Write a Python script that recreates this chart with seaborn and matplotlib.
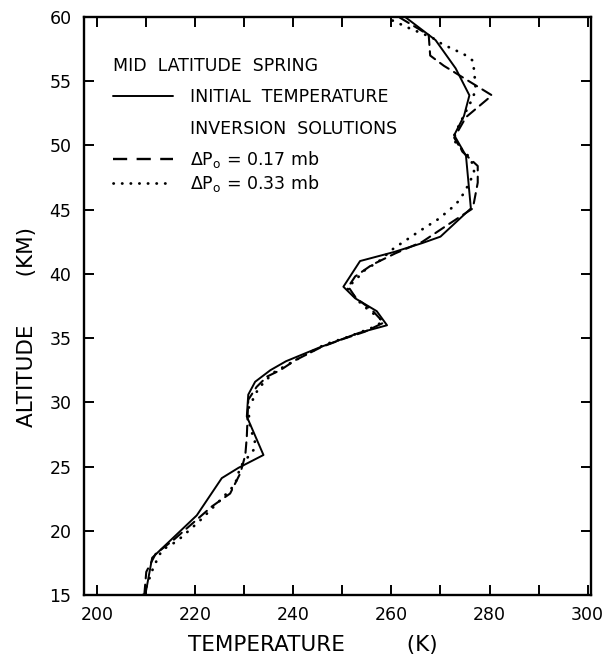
import numpy as np
import pandas as pd
import matplotlib
matplotlib.use("Agg")
import matplotlib.pyplot as plt
from matplotlib.lines import Line2D
import seaborn as sns

sns.set_theme(style="ticks")
plt.rcParams['font.family'] = ['DejaVu Sans']
plt.rcParams['text.color'] = 'black'

# ---- data ----
alt_init = [15.0, 17.9, 21.2, 24.1, 24.9, 25.9, 28.9, 30.6, 31.6, 32.5, 33.2, 34.3,
            35.0, 35.4, 36.0, 37.1, 38.1, 39.0, 41.0, 41.7, 42.4, 42.9, 45.1, 49.2,
            50.8, 52.3, 53.9, 56.0, 58.2, 60.0]
temp_init = [209.8, 211.2, 220.3, 225.4, 228.8, 233.9, 230.5, 230.8, 232.2, 235.3, 238.5, 245.5,
             250.5, 253.3, 259.1, 257.0, 252.6, 250.2, 253.6, 260.5, 266.3, 270.0, 276.2, 275.2,
             272.8, 274.8, 275.9, 273.1, 269.0, 262.8]

alt_017 = [15.0, 16.8, 18.2, 19.3, 21.9, 22.9, 24.5, 25.9, 27.3, 30.2, 31.2, 32.0, 32.5,
           33.3, 34.3, 34.9, 35.5, 36.2, 37.2, 38.1, 39.0, 39.8, 40.7, 41.6, 42.5, 43.9,
           45.1, 47.1, 48.4, 49.5, 50.6, 52.2, 53.9, 56.2, 57.0, 58.6, 60.0]
temp_017 = [209.6, 210.0, 211.9, 215.6, 223.4, 227.1, 229.2, 230.2, 230.5, 230.8, 232.5, 234.6, 237.3,
            240.5, 245.7, 249.9, 254.6, 258.4, 256.0, 252.8, 251.2, 252.6, 256.0, 260.8, 266.3, 271.8,
            276.6, 277.6, 277.6, 274.5, 272.8, 275.2, 280.5, 270.7, 267.9, 267.6, 261.5]

alt_033 = [15.0, 15.4, 17.2, 18.5, 19.2, 20.7, 22.5, 23.6, 25.0, 26.3, 27.1, 27.9, 29.5,
           31.1, 32.3, 33.3, 34.5, 35.1, 35.8, 36.3, 36.8, 37.6, 38.9, 39.5, 40.3, 41.0,
           42.0, 42.5, 43.3, 44.3, 45.3, 45.8, 46.8, 47.9, 49.0, 49.5, 50.5, 51.6, 53.4,
           54.3, 55.7, 56.6, 57.1, 57.9, 58.4, 59.1, 59.8]
temp_033 = [209.4, 209.8, 211.5, 213.2, 216.3, 220.7, 225.4, 228.1, 229.2, 231.9, 232.2, 231.2, 230.8,
            232.9, 235.9, 240.5, 246.4, 251.2, 256.0, 258.4, 256.7, 254.0, 250.9, 252.6, 254.6, 257.5,
            260.5, 262.5, 265.6, 269.7, 272.8, 274.0, 275.5, 276.9, 276.2, 274.8, 272.5, 273.8, 276.2,
            277.2, 276.9, 276.6, 274.8, 270.3, 268.3, 263.8, 259.8]

series_names = ["initial", "dp017", "dp033"]
legend_title = "MID  LATITUDE  SPRING"
legend_labels = ["INITIAL  TEMPERATURE", "INVERSION  SOLUTIONS",
                 r"$\Delta$P$_\mathregular{o}$ = 0.17 mb", r"$\Delta$P$_\mathregular{o}$ = 0.33 mb"]
x_major = [200, 220, 240, 260, 280, 300]
x_minor = [210, 230, 250, 270, 290]
y_ticks = [15, 20, 25, 30, 35, 40, 45, 50, 55, 60]

df = pd.concat([
    pd.DataFrame({"altitude": alt_init, "temperature": temp_init, "series": series_names[0]}),
    pd.DataFrame({"altitude": alt_017, "temperature": temp_017, "series": series_names[1]}),
    pd.DataFrame({"altitude": alt_033, "temperature": temp_033, "series": series_names[2]}),
], ignore_index=True)

fig = plt.figure(figsize=(6.12, 6.61), dpi=100)
ax = fig.add_axes([84/612, 1-595/661, 507/612, 578/661])

dash_map = {"initial": "", "dp017": (5, 3), "dp033": (0.1, 3.1)}
sns.lineplot(data=df, x="temperature", y="altitude", style="series",
             style_order=series_names, dashes=dash_map, color="black",
             linewidth=1.4, orient="y", sort=True, estimator=None,
             legend=False, ax=ax)

for line, lw in zip(ax.lines, [1.4, 1.5, 2.0]):
    line.set_linewidth(lw)
    line.set_dash_capstyle("round")

ax.set_xlim(197.3, 300.7)
ax.set_ylim(15, 60)
ax.set_xticks(x_major)
ax.set_xticks(x_minor, minor=True)
ax.set_yticks(y_ticks)
ax.tick_params(which="both", direction="in", top=True, right=True,
               length=7, width=1.4, color="black", labelcolor="black",
               labelsize=12.5)
ax.tick_params(axis="x", which="major", pad=8)
ax.tick_params(axis="y", which="major", pad=9)
for s in ax.spines.values():
    s.set_linewidth(1.7)
    s.set_color("black")

ax.set_xlabel("TEMPERATURE         (K)", fontsize=15.5, color="black")
ax.xaxis.set_label_coords(0.452, -0.070)
ax.set_ylabel("ALTITUDE       (KM)", fontsize=15.5, color="black")
ax.yaxis.set_label_coords(-0.092, 0.464)

h_solid = Line2D([], [], color="black", lw=1.4)
h_blank = Line2D([], [], linestyle="none")
h_dash = Line2D([], [], color="black", lw=1.7, dashes=(6, 4))
h_dot = Line2D([], [], color="black", lw=2.0, dashes=(0.1, 3.0), dash_capstyle="round")

leg1 = ax.legend(handles=[h_solid, h_blank], labels=legend_labels[:2],
                 title=legend_title, loc="upper left",
                 bbox_to_anchor=(0.057, 0.93), frameon=False,
                 fontsize=12.5, title_fontsize=12.5, handlelength=3.45,
                 handletextpad=1.0, labelspacing=0.75, borderpad=0,
                 borderaxespad=0, alignment="left", labelcolor="black")
leg1.get_title().set_color("black")
ax.add_artist(leg1)
ax.legend(handles=[h_dash, h_dot], labels=legend_labels[2:], loc="upper left",
          bbox_to_anchor=(0.057, 0.7716), frameon=False, fontsize=12.5,
          handlelength=3.45, handletextpad=1.0, labelspacing=0.15,
          borderpad=0, borderaxespad=0, labelcolor="black")

fig.savefig("out.png", dpi=100)
